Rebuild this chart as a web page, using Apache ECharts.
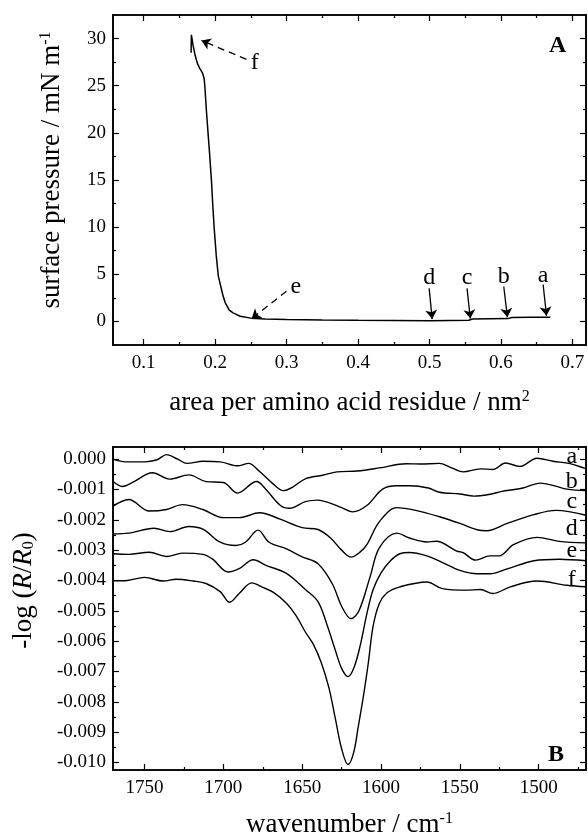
<!DOCTYPE html>
<html>
<head>
<meta charset="utf-8">
<script src="https://cdn.jsdelivr.net/npm/echarts@6/dist/echarts.min.js"></script>
<style>
html, body { margin: 0; padding: 0; background: #fff; }
#main { width: 588px; height: 839px; }
</style>
</head>
<body>
<div id="main"></div>
<script>
var FONT = '"Liberation Serif", "Times New Roman", serif';

// ---- panel A : surface pressure isotherm ----
var isotherm = [
    [0.669, 0.45], [0.640, 0.45], [0.615, 0.42], [0.610, 0.30], [0.585, 0.28],
    [0.560, 0.25], [0.555, 0.12], [0.500, 0.08], [0.450, 0.10], [0.400, 0.12],
    [0.350, 0.15], [0.300, 0.20], [0.270, 0.25], [0.250, 0.35], [0.235, 0.55],
    [0.225, 0.90], [0.2197, 1.2], [0.214, 2.0], [0.2107, 2.8], [0.2044, 4.8],
    [0.2015, 7.0], [0.1987, 9.8], [0.1965, 12.5], [0.1949, 14.8], [0.192, 18.0],
    [0.190, 20.0], [0.1877, 22.4], [0.1855, 25.0], [0.1845, 25.8], [0.182, 26.4],
    [0.178, 26.9], [0.175, 27.4], [0.172, 28.2], [0.169, 29.3], [0.1667, 30.4],
    [0.1663, 28.5]
];
var areaTicks = [0.1, 0.2, 0.3, 0.4, 0.5, 0.6, 0.7];
var areaMinor = [0.15, 0.25, 0.35, 0.45, 0.55, 0.65];
var pressTicks = [0, 5, 10, 15, 20, 25, 30];
var pressMinor = [2.5, 7.5, 12.5, 17.5, 22.5, 27.5];

// annotation letters and arrows (data coordinates)
var isoLetters = [
    ['f', 0.2553, 27.4], ['e', 0.313, 3.7], ['d', 0.4995, 4.6],
    ['c', 0.5525, 4.6], ['b', 0.6039, 4.75], ['a', 0.659, 4.9]
];
var isoArrows = [
    [0.2437, 27.8, 0.1808, 29.8, true],
    [0.2998, 3.2, 0.2511, 0.3, true],
    [0.4995, 3.5, 0.5037, 0.25, false],
    [0.5525, 3.5, 0.5571, 0.3, false],
    [0.6039, 3.7, 0.609, 0.45, false],
    [0.659, 3.9, 0.6637, 0.6, false]
];

// ---- panel B : IRRAS spectra ----
var specA = [[1770,0.00000],[1762,-0.00009],[1750,-0.00009],[1742,-0.00002],[1736,0.00015],[1729,0.00000],[1723,-0.00014],[1713,-0.00007],[1702,-0.00009],[1691,-0.00022],[1684,-0.00014],[1677,-0.00041],[1669,-0.00079],[1662,-0.00104],[1656,-0.00092],[1648,-0.00065],[1637,-0.00053],[1628,-0.00042],[1615,-0.00039],[1601,-0.00029],[1584,-0.00015],[1575,-0.00016],[1563,-0.00014],[1556,-0.00027],[1548,-0.00042],[1537,-0.00032],[1529,-0.00034],[1521,-0.00013],[1512,-0.00024],[1501,0.00003],[1491,-0.00007],[1480,-0.00015],[1470,-0.00032]];
var specB = [[1770,-0.00074],[1764,-0.00090],[1757,-0.00075],[1745,-0.00045],[1734,-0.00066],[1722,-0.00052],[1711,-0.00074],[1700,-0.00077],[1691,-0.00112],[1679,-0.00074],[1673,-0.00100],[1664,-0.00152],[1658,-0.00162],[1648,-0.00140],[1640,-0.00135],[1634,-0.00142],[1625,-0.00160],[1618,-0.00174],[1609,-0.00153],[1599,-0.00099],[1590,-0.00088],[1582,-0.00088],[1570,-0.00095],[1563,-0.00109],[1550,-0.00115],[1541,-0.00122],[1530,-0.00115],[1524,-0.00107],[1510,-0.00095],[1499,-0.00079],[1490,-0.00088],[1482,-0.00099],[1470,-0.00104]];
var specC = [[1770,-0.00155],[1760,-0.00133],[1747,-0.00171],[1736,-0.00166],[1726,-0.00150],[1713,-0.00166],[1700,-0.00193],[1690,-0.00193],[1677,-0.00177],[1664,-0.00198],[1650,-0.00226],[1640,-0.00232],[1632,-0.00260],[1625,-0.00300],[1619,-0.00323],[1613,-0.00305],[1609,-0.00282],[1601,-0.00206],[1590,-0.00160],[1578,-0.00169],[1563,-0.00190],[1550,-0.00212],[1539,-0.00233],[1533,-0.00236],[1520,-0.00212],[1503,-0.00183],[1489,-0.00169],[1470,-0.00185]];
var specD = [[1770,-0.00247],[1760,-0.00244],[1744,-0.00228],[1734,-0.00239],[1722,-0.00222],[1713,-0.00231],[1702,-0.00274],[1692,-0.00285],[1686,-0.00274],[1678,-0.00234],[1671,-0.00274],[1660,-0.00296],[1650,-0.00322],[1640,-0.00345],[1631,-0.00410],[1625,-0.00485],[1619,-0.00526],[1614,-0.00500],[1607,-0.00389],[1601,-0.00292],[1590,-0.00244],[1582,-0.00260],[1571,-0.00273],[1565,-0.00271],[1552,-0.00303],[1548,-0.00308],[1540,-0.00333],[1531,-0.00319],[1525,-0.00319],[1516,-0.00282],[1501,-0.00258],[1487,-0.00271],[1470,-0.00276]];
var specE = [[1770,-0.00312],[1760,-0.00314],[1747,-0.00307],[1736,-0.00321],[1726,-0.00310],[1713,-0.00314],[1707,-0.00329],[1697,-0.00372],[1690,-0.00361],[1681,-0.00332],[1673,-0.00350],[1660,-0.00377],[1648,-0.00430],[1640,-0.00470],[1634,-0.00550],[1629,-0.00630],[1625,-0.00690],[1621,-0.00717],[1617,-0.00685],[1613,-0.00610],[1609,-0.00510],[1605,-0.00430],[1600,-0.00375],[1594,-0.00335],[1588,-0.00312],[1582,-0.00308],[1571,-0.00319],[1561,-0.00341],[1550,-0.00367],[1539,-0.00378],[1531,-0.00378],[1520,-0.00362],[1503,-0.00335],[1487,-0.00330],[1470,-0.00335]];
var specF = [[1770,-0.00401],[1761,-0.00400],[1750,-0.00390],[1738,-0.00402],[1730,-0.00396],[1719,-0.00402],[1711,-0.00410],[1702,-0.00437],[1696,-0.00472],[1690,-0.00443],[1682,-0.00408],[1675,-0.00423],[1668,-0.00440],[1660,-0.00475],[1654,-0.00515],[1648,-0.00570],[1643,-0.00610],[1638,-0.00670],[1633,-0.00755],[1629,-0.00855],[1625,-0.00955],[1621,-0.01007],[1617.5,-0.00970],[1614.5,-0.00884],[1611,-0.00776],[1608,-0.00669],[1605,-0.00550],[1601,-0.00475],[1596,-0.00440],[1588,-0.00421],[1571,-0.00405],[1561,-0.00427],[1546,-0.00432],[1537,-0.00430],[1529,-0.00443],[1518,-0.00421],[1501,-0.00402],[1482,-0.00416],[1470,-0.00421]];
var spectra = [specA, specB, specC, specD, specE, specF];
var curveLetters = [['a', 0.00008], ['b', -0.00076], ['c', -0.00141], ['d', -0.00228], ['e', -0.00302], ['f', -0.00396]];
var wnTicks = [1750, 1700, 1650, 1600, 1550, 1500];
var wnMinor = [1725, 1675, 1625, 1575, 1525, 1475];
var absTicks = [0, -0.001, -0.002, -0.003, -0.004, -0.005, -0.006, -0.007, -0.008, -0.009, -0.010];
var absMinor = [-0.0005, -0.0015, -0.0025, -0.0035, -0.0045, -0.0055, -0.0065, -0.0075, -0.0085, -0.0095];

var black = '#000';
var nameStyle = {
    color: black, fontFamily: FONT, fontSize: 27,
    rich: {
        sup: { fontFamily: FONT, fontSize: 16, verticalAlign: 'top', color: black },
        sub: { fontFamily: FONT, fontSize: 16, verticalAlign: 'bottom', color: black },
        i: { fontFamily: FONT, fontSize: 27, fontStyle: 'italic', color: black }
    }
};

// four axes per side pair: labelled major, minor, mirrored major, mirrored minor
function axesFor(dim, grid, min, max, major, minor, fmt, name, gap, extra) {
    var sides = dim === 'x' ? ['bottom', 'top'] : ['left', 'right'];
    var list = [];
    for (var s = 0; s < 2; s++) {
        for (var m = 0; m < 2; m++) {
            var ax = {
                type: 'value', gridIndex: grid, position: sides[s],
                min: min, max: max, inverse: !!(extra && extra.inverse),
                splitLine: { show: false },
                axisLine: { onZero: false, lineStyle: { color: black, width: 1.6 } },
                axisTick: {
                    inside: true, length: m === 0 ? 6 : 3,
                    customValues: m === 0 ? major : minor,
                    lineStyle: { color: black, width: 1.2 }
                },
                axisLabel: { show: false }
            };
            if (s === 0 && m === 0) {
                ax.axisLabel = {
                    show: true, customValues: major, formatter: fmt,
                    margin: dim === 'x' ? 9 : 7,
                    color: black, fontFamily: FONT, fontSize: 19
                };
                ax.name = name;
                ax.nameLocation = 'middle';
                ax.nameGap = gap;
                ax.nameTextStyle = Object.assign({}, nameStyle, { padding: (extra && extra.namePad) || 0 });
            }
            list.push(ax);
        }
    }
    return list;
}

var xAxes = axesFor('x', 0, 0.057, 0.719, areaTicks, areaMinor,
        function (v) { return v.toFixed(1); },
        'area per amino acid residue / nm{sup|2}', 44)
    .concat(axesFor('x', 1, 1470, 1770, wnTicks, wnMinor,
        function (v) { return String(v); },
        'wavenumber / cm{sup|-1}', 41, { inverse: true }));
var yAxes = axesFor('y', 0, -2.5, 32.5, pressTicks, pressMinor,
        function (v) { return String(v); },
        'surface pressure / mN m{sup|-1}', 48, { namePad: [0, 0, 0, 20] })
    .concat(axesFor('y', 1, -0.01025, 0.0004, absTicks, absMinor,
        function (v) { return v.toFixed(3); },
        '-log ({i|R}/{i|R}{sub|0})', 76, { namePad: [0, 0, 0, 36] }));

var letterLabel = {
    show: true, position: 'inside', formatter: '{b}', opacity: 1,
    color: black, fontFamily: FONT, fontSize: 24, textBorderWidth: 0
};

var series = [{
    type: 'line', xAxisIndex: 0, yAxisIndex: 0,
    data: isotherm, showSymbol: false, smooth: false,
    lineStyle: { color: black, width: 1.5 }
}, {
    type: 'lines', coordinateSystem: 'cartesian2d', xAxisIndex: 0, yAxisIndex: 0,
    symbol: ['none', 'arrow'], symbolSize: 9,
    lineStyle: { color: black, width: 1.3, opacity: 1 },
    data: isoArrows.map(function (a) {
        return {
            coords: [[a[0], a[1]], [a[2], a[3]]],
            lineStyle: { type: a[4] ? [7, 5] : 'solid' }
        };
    })
}, {
    type: 'scatter', xAxisIndex: 0, yAxisIndex: 0, symbolSize: 0,
    itemStyle: { opacity: 1, color: black },
    label: letterLabel,
    data: isoLetters.map(function (l) { return { name: l[0], value: [l[1], l[2]] }; })
}];

spectra.forEach(function (s) {
    series.push({
        type: 'line', xAxisIndex: 4, yAxisIndex: 4,
        data: s, showSymbol: false, smooth: 0.35,
        lineStyle: { color: black, width: 1.4 }
    });
});
series.push({
    type: 'scatter', xAxisIndex: 4, yAxisIndex: 4, symbolSize: 0,
    itemStyle: { opacity: 1, color: black },
    label: letterLabel,
    data: curveLetters.map(function (l) { return { name: l[0], value: [1479, l[1]] }; })
});

var myChart = echarts.init(document.getElementById('main'));
myChart.setOption({
    animation: false,
    backgroundColor: '#fff',
    grid: [
        { left: 113, top: 15, width: 473, height: 330 },
        { left: 113, top: 447, width: 473, height: 330 }
    ],
    xAxis: xAxes,
    yAxis: yAxes,
    series: series,
    graphic: [
        { type: 'text', left: 549, top: 34, style: { text: 'A', font: 'bold 24px ' + FONT, fill: black } },
        { type: 'text', left: 548, top: 743, style: { text: 'B', font: 'bold 24px ' + FONT, fill: black } }
    ]
});
</script>
</body>
</html>
